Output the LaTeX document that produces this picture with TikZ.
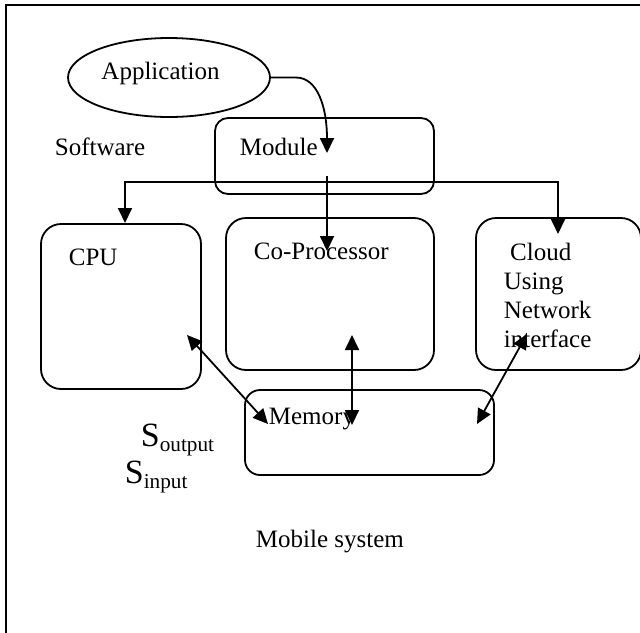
\documentclass[tikz,border=0pt]{standalone}
\usepackage{fontspec}
\setmainfont{Liberation Serif}
\usetikzlibrary{arrows.meta,shapes.geometric}

\begin{document}
\begin{tikzpicture}[x=0.5pt, y=-0.5pt,
  line width=0.9pt,
  every node/.style={font=\fontsize{12.5}{14.5}\selectfont, inner sep=0pt},
  box/.style={draw, rectangle, rounded corners=10pt},
  arr/.style={-{Triangle[length=7.5pt,width=7pt]}},
  dbl/.style={{Triangle[length=7.5pt,width=7pt]}-{Triangle[length=7.5pt,width=7pt]}}]
\clip (0,0) rectangle (640,632);

% Frame
\draw (6,640) -- (6,5) -- (645,5);

% Software part
\node[draw, ellipse, minimum width=101pt, minimum height=39.5pt] (app) at (169,77.5) {};
\node (apptxt) at (160.5,73) {Application};
\node[anchor=west] (sw) at (54,147) {Software};
\node[box, rounded corners=6.5pt, minimum width=109.5pt, minimum height=38pt] (module) at (324.5,156) {};
\node[anchor=west] (modtxt) at (239,147) {Module};

% Hardware boxes
\node[box, minimum width=80pt, minimum height=82.5pt] (cpu) at (121,306.5) {};
\node[anchor=west] (cputxt) at (68,257) {CPU};
\node[box, minimum width=104pt, minimum height=76pt] (cop) at (330,294) {};
\node[anchor=west] (coptxt) at (253,251) {Co-Processor};
\node[box, minimum width=82.5pt, minimum height=76pt] (cloud) at (558.5,294) {};
\node[anchor=west, align=left] (cloudtxt) at (503,295) {~Cloud\\Using\\Network\\interface};
\node[box, rounded corners=7.5pt, minimum width=124.5pt, minimum height=42.5pt] (mem) at (369.5,432.5) {};
\node[anchor=west] (memtxt) at (268,419) {Memory};

% Signals
\node[anchor=west] (sout) at (140,440) {{\fontsize{17}{20}\selectfont S}\raisebox{-2.5pt}{\fontsize{10.6}{12}\selectfont output}};
\node[anchor=west] (sin) at (124,477) {{\fontsize{17}{20}\selectfont S}\raisebox{-2.5pt}{\fontsize{10.6}{12}\selectfont input}};
\node[anchor=west] (mobile) at (255,542) {Mobile system};

% Arrow ends
\coordinate (modin) at (327,153);
\coordinate (split) at (327,176);
\coordinate (bus) at (327,182);
\coordinate (cpuin) at (125,223);
\coordinate (copin) at (327,251);
\coordinate (cloudin) at (558,234);
\coordinate (cpuout) at (187,335);
\coordinate (memcpu) at (268,424);
\coordinate (copout) at (352,335);
\coordinate (memcop) at (352,425);
\coordinate (cloudout) at (527,334);
\coordinate (memcloud) at (477,424);

% Application to module
\draw[arr] (app.east) -- ++(25,0) .. controls +(22,0) and +(0,-45) .. (modin);

% Module to hardware
\draw[arr] (split) -- (copin);
\draw[arr] (bus) -| (cpuin);
\draw[arr] (bus) -| (cloudin);

% Memory links
\draw[dbl] (cpuout) -- (memcpu);
\draw[dbl] (copout) -- (memcop);
\draw[dbl] (cloudout) -- (memcloud);
\end{tikzpicture}
\end{document}
